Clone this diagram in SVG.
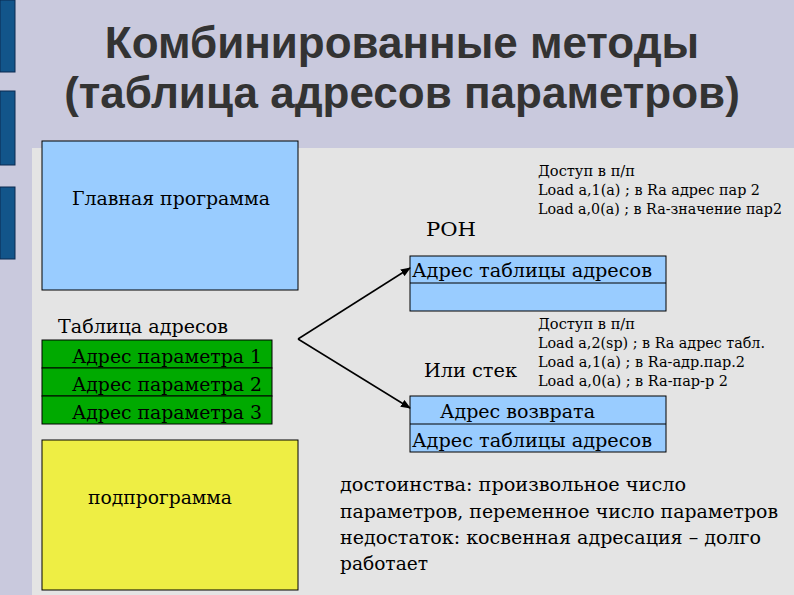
<svg xmlns="http://www.w3.org/2000/svg" width="794" height="595" viewBox="0 0 794 595">
<defs><marker id="ar" markerWidth="10" markerHeight="8" refX="9" refY="4" orient="auto" markerUnits="userSpaceOnUse"><path d="M0,0 L10,4 L0,8 z" fill="#000"/></marker></defs>
<style>
text.s, .s text{font-family:"DejaVu Serif Condensed","DejaVu Serif","Liberation Serif",serif;fill:#000}
.b{stroke:#000;stroke-width:1}
</style>
<rect width="794" height="595" fill="#c9c9dd"/>
<rect x="32" y="148" width="762" height="447" fill="#e4e4e4"/>
<g fill="#12558a" stroke="#0a2a50" stroke-width="1"><rect x="0" y="0" width="15" height="72"/><rect x="0" y="91" width="15" height="74"/><rect x="0" y="187" width="15" height="72"/></g>
<text x="402" y="58" text-anchor="middle" font-family="Liberation Sans,sans-serif" font-weight="bold" font-size="44" fill="#333">Комбинированные методы</text>
<text x="402" y="108" text-anchor="middle" font-family="Liberation Sans,sans-serif" font-weight="bold" font-size="44" fill="#333">(таблица адресов параметров)</text>
<g id="main" class="s"><rect class="b" x="42" y="141" width="256" height="149" fill="#99ccff"/><text x="72" y="205" font-size="19" textLength="198" lengthAdjust="spacingAndGlyphs">Главная программа</text></g>
<g id="table" class="s"><text x="58" y="333" font-size="19" textLength="170" lengthAdjust="spacingAndGlyphs">Таблица адресов</text>
<rect class="b" x="42" y="340" width="230" height="28" fill="#00aa00"/><rect class="b" x="42" y="368" width="230" height="28" fill="#00aa00"/><rect class="b" x="42" y="396" width="230" height="28" fill="#00aa00"/>
<text x="72" y="363" font-size="19" textLength="190" lengthAdjust="spacingAndGlyphs">Адрес параметра 1</text><text x="72" y="391" font-size="19" textLength="190" lengthAdjust="spacingAndGlyphs">Адрес параметра 2</text><text x="72" y="419" font-size="19" textLength="190" lengthAdjust="spacingAndGlyphs">Адрес параметра 3</text></g>
<g id="sub" class="s"><rect class="b" x="42" y="440" width="256" height="150" fill="#eeee44"/><text x="88" y="504" font-size="19" textLength="144" lengthAdjust="spacingAndGlyphs">подпрограмма</text></g>
<g id="ron" class="s"><text x="426" y="236" font-size="19" textLength="50" lengthAdjust="spacingAndGlyphs">РОН</text>
<text x="538" y="176" font-size="14" textLength="97" lengthAdjust="spacingAndGlyphs">Доступ в п/п</text><text x="538" y="195" font-size="14" textLength="222" lengthAdjust="spacingAndGlyphs">Load a,1(a) ; в Ra адрес пар 2</text><text x="538" y="214" font-size="14" textLength="244" lengthAdjust="spacingAndGlyphs">Load a,0(a) ; в Ra-значение пар2</text>
<rect class="b" x="410" y="256" width="256" height="55" fill="#99ccff"/><line class="b" x1="410" y1="283" x2="666" y2="283"/>
<text x="412" y="277" font-size="19" textLength="240" lengthAdjust="spacingAndGlyphs">Адрес таблицы адресов</text></g>
<g id="stack" class="s"><text x="424" y="377" font-size="19" textLength="93" lengthAdjust="spacingAndGlyphs">Или стек</text>
<text x="538" y="329" font-size="14" textLength="97" lengthAdjust="spacingAndGlyphs">Доступ в п/п</text><text x="538" y="348" font-size="14" textLength="227" lengthAdjust="spacingAndGlyphs">Load a,2(sp) ; в Ra адрес табл.</text><text x="538" y="367" font-size="14" textLength="207" lengthAdjust="spacingAndGlyphs">Load a,1(a) ; в Ra-адр.пар.2</text><text x="538" y="386" font-size="14" textLength="190" lengthAdjust="spacingAndGlyphs">Load a,0(a) ; в Ra-пар-р 2</text>
<rect class="b" x="410" y="396" width="256" height="56" fill="#99ccff"/><line class="b" x1="410" y1="424" x2="666" y2="424"/>
<text x="440" y="418" font-size="19" textLength="155" lengthAdjust="spacingAndGlyphs">Адрес возврата</text><text x="412" y="447" font-size="19" textLength="240" lengthAdjust="spacingAndGlyphs">Адрес таблицы адресов</text></g>
<g id="connectors" stroke="#000" stroke-width="1.5" fill="none"><line x1="298" y1="339" x2="410" y2="268" marker-end="url(#ar)"/><line x1="298" y1="339" x2="410" y2="408" marker-end="url(#ar)"/></g>
<g id="notes" class="s" font-size="19"><text x="340" y="491" textLength="346" lengthAdjust="spacingAndGlyphs">достоинства: произвольное число</text><text x="340" y="518" textLength="438" lengthAdjust="spacingAndGlyphs">параметров, переменное число параметров</text><text x="340" y="544" textLength="421" lengthAdjust="spacingAndGlyphs">недостаток: косвенная адресация – долго</text><text x="340" y="570" textLength="88" lengthAdjust="spacingAndGlyphs">работает</text></g>
</svg>
